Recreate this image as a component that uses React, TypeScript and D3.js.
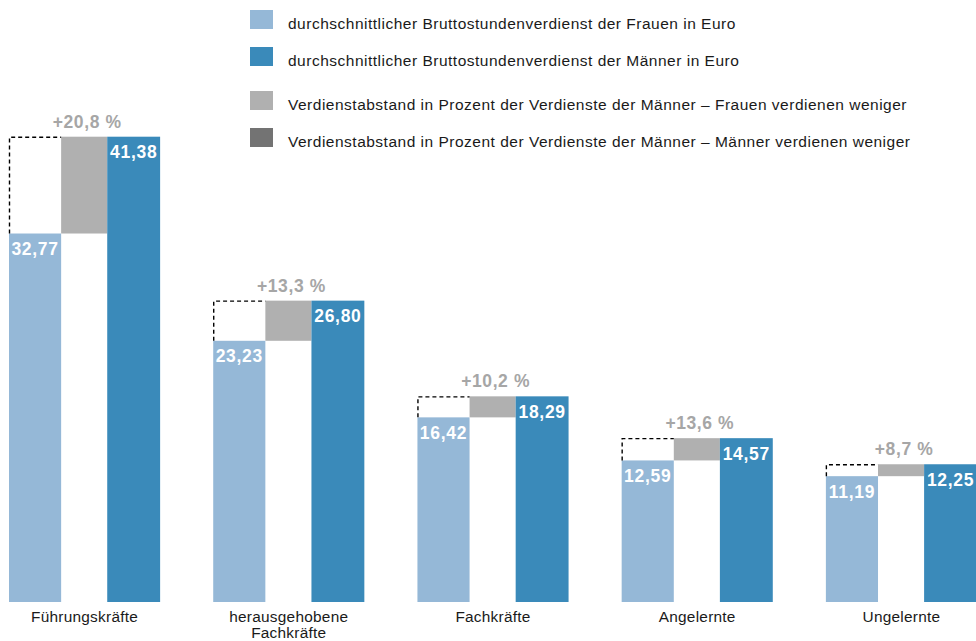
import React, { useEffect, useRef } from 'react';
import * as d3 from 'd3';

const categories = ['Führungskräfte', 'herausgehobene\nFachkräfte', 'Fachkräfte', 'Angelernte', 'Ungelernte'];
const women = [32.77, 23.23, 16.42, 12.59, 11.19];
const men = [41.38, 26.8, 18.29, 14.57, 12.25];
const gapPct = [20.8, 13.3, 10.2, 13.6, 8.7];

const legendItems = [
  { label: 'durchschnittlicher Bruttostundenverdienst der Frauen in Euro', color: '#95b8d7' },
  { label: 'durchschnittlicher Bruttostundenverdienst der Männer in Euro', color: '#3a8aba' },
  { label: 'Verdienstabstand in Prozent der Verdienste der Männer – Frauen verdienen weniger', color: '#b0b0b0' },
  { label: 'Verdienstabstand in Prozent der Verdienste der Männer – Männer verdienen weniger', color: '#737373' },
];

const fmt = (v: number) => v.toFixed(2).replace('.', ',');

const App: React.FC = () => {
  const svgRef = useRef<SVGSVGElement | null>(null);

  useEffect(() => {
    const svg = d3.select(svgRef.current);
    svg.selectAll('*').remove();

    const width = 976;
    const height = 641;
    const baseline = 602;

    const x = d3.scaleBand<number>()
      .domain(d3.range(categories.length))
      .range([9, 977])
      .paddingInner(0.26)
      .paddingOuter(0);

    const y = d3.scaleLinear().domain([0, 41.38]).range([baseline, 136.7]);

    const bw = x.bandwidth();
    const wW = bw * 0.345;
    const gW = bw * 0.305;
    const mW = bw - wW - gW;

    const font = 'Liberation Sans, Arial, sans-serif';

    // legend
    const lg = svg.append('g');
    const rowY = [10, 47, 91, 128];
    legendItems.forEach((item, i) => {
      lg.append('rect')
        .attr('x', 250).attr('y', rowY[i])
        .attr('width', 23).attr('height', 19)
        .attr('fill', item.color);
      lg.append('text')
        .attr('x', 288).attr('y', rowY[i] + 18.5)
        .attr('font-family', font).attr('font-size', 15.5)
        .attr('letter-spacing', 0.5)
        .attr('fill', '#1a1a1a')
        .text(item.label);
    });

    const g = svg.append('g');

    categories.forEach((cat, i) => {
      const x0 = x(i)!;
      const wTop = y(women[i]);
      const mTop = y(men[i]);

      // women bar
      g.append('rect')
        .attr('x', x0).attr('y', wTop)
        .attr('width', wW).attr('height', baseline - wTop)
        .attr('fill', '#95b8d7');

      // gap bar
      g.append('rect')
        .attr('x', x0 + wW).attr('y', mTop)
        .attr('width', gW).attr('height', wTop - mTop)
        .attr('fill', '#b0b0b0');

      // men bar
      g.append('rect')
        .attr('x', x0 + wW + gW).attr('y', mTop)
        .attr('width', mW).attr('height', baseline - mTop)
        .attr('fill', '#3a8aba');

      // dashed outline
      g.append('path')
        .attr('d', `M${x0 + 0.5},${wTop} L${x0 + 0.5},${mTop + 0.5} L${x0 + wW},${mTop + 0.5}`)
        .attr('fill', 'none')
        .attr('stroke', '#000')
        .attr('stroke-width', 1.4)
        .attr('stroke-dasharray', '4,3');

      // value labels
      g.append('text')
        .attr('x', x0 + wW / 2).attr('y', wTop + 21.5)
        .attr('text-anchor', 'middle')
        .attr('font-family', font).attr('font-size', 17.5).attr('font-weight', 'bold')
        .attr('letter-spacing', 0.7)
        .attr('fill', '#fff')
        .text(fmt(women[i]));
      g.append('text')
        .attr('x', x0 + wW + gW + mW / 2).attr('y', mTop + 21.5)
        .attr('text-anchor', 'middle')
        .attr('font-family', font).attr('font-size', 17.5).attr('font-weight', 'bold')
        .attr('letter-spacing', 0.7)
        .attr('fill', '#fff')
        .text(fmt(men[i]));

      // percentage label
      g.append('text')
        .attr('x', x0 + wW + gW / 2 + 3).attr('y', mTop - 9)
        .attr('text-anchor', 'middle')
        .attr('font-family', font).attr('font-size', 17.5).attr('font-weight', 'bold')
        .attr('letter-spacing', 0.6)
        .attr('fill', '#a6a6a6')
        .text(`+${gapPct[i].toFixed(1).replace('.', ',')} %`);

      // category label
      const lines = cat.split('\n');
      lines.forEach((line, j) => {
        g.append('text')
          .attr('x', x0 + bw / 2).attr('y', 622 + j * 16)
          .attr('text-anchor', 'middle')
          .attr('font-family', font).attr('font-size', 15.4)
          .attr('letter-spacing', 0.25)
          .attr('fill', '#1a1a1a')
          .text(line);
      });
    });

    svg.attr('width', width).attr('height', height);
  }, []);

  return (
    <svg
      ref={svgRef}
      width={976}
      height={641}
      style={{ position: 'absolute', left: 0, top: 0, background: '#fff' }}
    />
  );
};

export default App;
